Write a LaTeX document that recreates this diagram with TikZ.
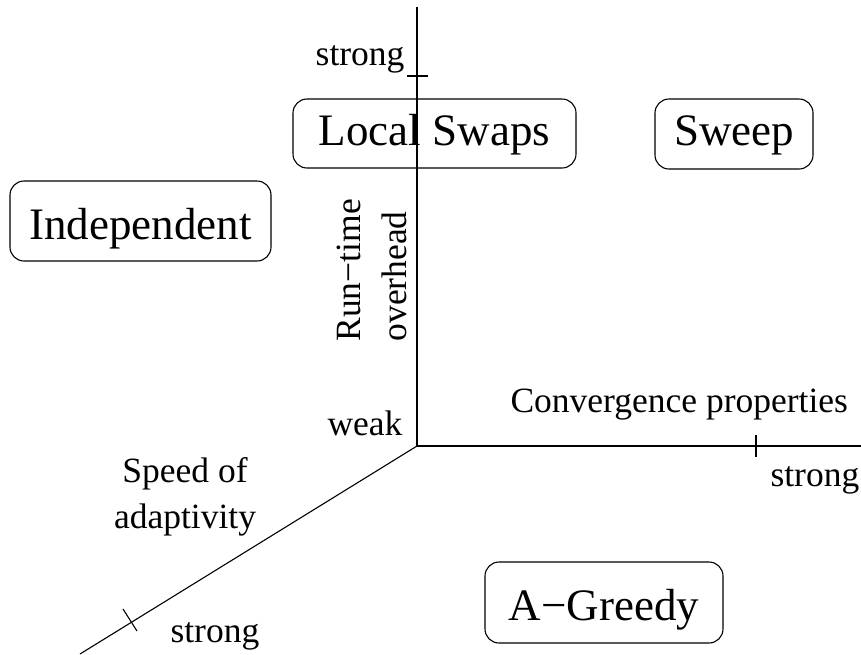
\documentclass[tikz,border=0pt]{standalone}
\usepackage{fontspec}
\setmainfont{Liberation Serif}
\usetikzlibrary{calc}
\begin{document}
\begin{tikzpicture}[x=1pt,y=-1pt,line width=1.1pt,
  optbox/.style={draw,rounded corners=14pt,inner sep=0pt,
    font=\fontsize{45}{50}\selectfont},
  lbl/.style={inner sep=0pt,font=\fontsize{35.5}{46}\selectfont}]
\useasboundingbox (0,0) rectangle (861,654);

% axes
\coordinate (O) at (417,446);
\coordinate (ytop) at (417,7);
\coordinate (xend) at (861,446);
\coordinate (zend) at (80,654);
\draw (O) -- (ytop);
\draw (O) -- (xend);
\draw (O) -- (zend);

% ticks marking the "strong" end of each axis
\coordinate (ty) at (417,76);
\coordinate (tx) at (756,446);
\coordinate (tz) at (130,620);
\draw ([xshift=-10pt]ty) -- ([xshift=11pt]ty);
\draw ([yshift=11pt]tx) -- ([yshift=-11pt]tx);
\draw ($(tz)+(-7,-11)$) -- ($(tz)+(7,11)$);

% axis labels
\node[lbl,anchor=base east] (ystrong) at (405,65) {strong};
\node[lbl,anchor=base east] (yweak) at (403,435) {weak};
\node[lbl,rotate=90,align=left,anchor=west] (ylab) at (371.5,342) {Run−time\\overhead};
\node[lbl,anchor=base west] (xlab) at (510,412) {Convergence properties};
\node[lbl,anchor=base west] (xstrong) at (770,486) {strong};
\node[lbl,align=center] (zlab) at (185,497) {Speed of\\adaptivity};
\node[lbl,anchor=base west] (zstrong) at (170,642) {strong};

% algorithms placed in the space
\node[optbox,minimum width=283pt,minimum height=69pt,text height=32pt,text depth=8pt]
  (local) at (434.5,133.5) {Local Swaps};
\node[optbox,minimum width=158pt,minimum height=70pt,text height=31pt,text depth=9pt]
  (sweep) at (734,134) {Sweep};
\node[optbox,minimum width=261pt,minimum height=80pt,text height=36pt,text depth=0pt]
  (indep) at (140.5,221) {Independent};
\node[optbox,minimum width=238pt,minimum height=81pt,text height=35pt,text depth=0pt]
  (agreedy) at (604,602.5) {A−Greedy};
\end{tikzpicture}
\end{document}
